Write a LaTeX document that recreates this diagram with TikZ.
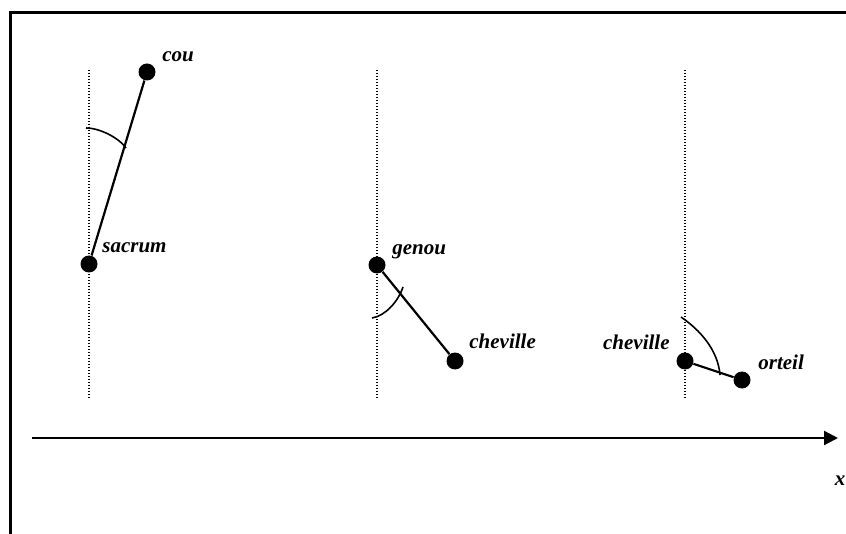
\documentclass[tikz,border=0pt]{standalone}
\usepackage{fontspec}
\setmainfont{Liberation Serif}
\usetikzlibrary{arrows.meta}

\begin{document}
\begin{tikzpicture}[x=0.5pt, y=-0.5pt,
    dot/.style={circle, fill=black, inner sep=0pt, minimum size=8.5pt},
    lbl/.style={font=\fontsize{10.5}{12}\selectfont\bfseries\itshape, inner sep=0pt},
    seg/.style={line width=1.1pt},
    vert/.style={dash pattern=on 0.6pt off 0.9pt, line width=0.7pt},
    ang/.style={line width=0.8pt},
    axis/.style={-{Triangle[length=7pt, width=7pt]}, line width=1.1pt}
]
    \useasboundingbox (0,0) rectangle (846,534);

    % Frame
    \draw[line width=1.5pt] (846,13) -- (10,13) -- (10,534);

    % Verticals
    \foreach \xv/\nm in {89/va, 377/vb, 685/vc} {
        \coordinate (\nm t) at (\xv,70);
        \coordinate (\nm b) at (\xv,398);
        \draw[vert] (\nm t) -- (\nm b);
    }

    % Joints
    \node[dot] (sacrum) at (89,264) {};
    \node[dot] (cou) at (147,72) {};
    \node[dot] (genou) at (377,265) {};
    \node[dot] (chevA) at (455,361) {};
    \node[dot] (chevB) at (685,361) {};
    \node[dot] (orteil) at (742,380) {};

    % Segments
    \draw[seg] (sacrum) -- (cou);
    \draw[seg] (genou) -- (chevA);
    \draw[seg] (chevB) -- (orteil);

    % Angles
    \coordinate (angAs) at (86,128);
    \coordinate (angAe) at (126,148);
    \draw[ang] (angAs) .. controls (100,128) and (119,138) .. (angAe);
    \coordinate (angBs) at (372,318);
    \coordinate (angBe) at (403,287);
    \draw[ang] (angBs) .. controls (385,316) and (398,302) .. (angBe);
    \coordinate (angCs) at (681,317);
    \coordinate (angCe) at (720,375);
    \draw[ang] (angCs) .. controls (700,330) and (718,350) .. (angCe);

    % Labels
    \node[lbl, anchor=base west] (tcou) at ([shift={(15,-10)}]cou) {cou};
    \node[lbl, anchor=base west] (tsacrum) at ([shift={(13,-11)}]sacrum) {sacrum};
    \node[lbl, anchor=base west] (tgenou) at ([shift={(15,-10)}]genou) {genou};
    \node[lbl, anchor=base west] (tchevA) at ([shift={(14,-12)}]chevA) {cheville};
    \node[lbl, anchor=base east] (tchevB) at ([shift={(-15,-11)}]chevB) {cheville};
    \node[lbl, anchor=base west] (torteil) at ([shift={(16,-11)}]orteil) {orteil};

    % Axis
    \coordinate (ax0) at (32,438);
    \coordinate (ax1) at (838,438);
    \draw[axis] (ax0) -- (ax1);
    \node[lbl, anchor=base] (tx) at (840,485) {x};
\end{tikzpicture}
\end{document}
